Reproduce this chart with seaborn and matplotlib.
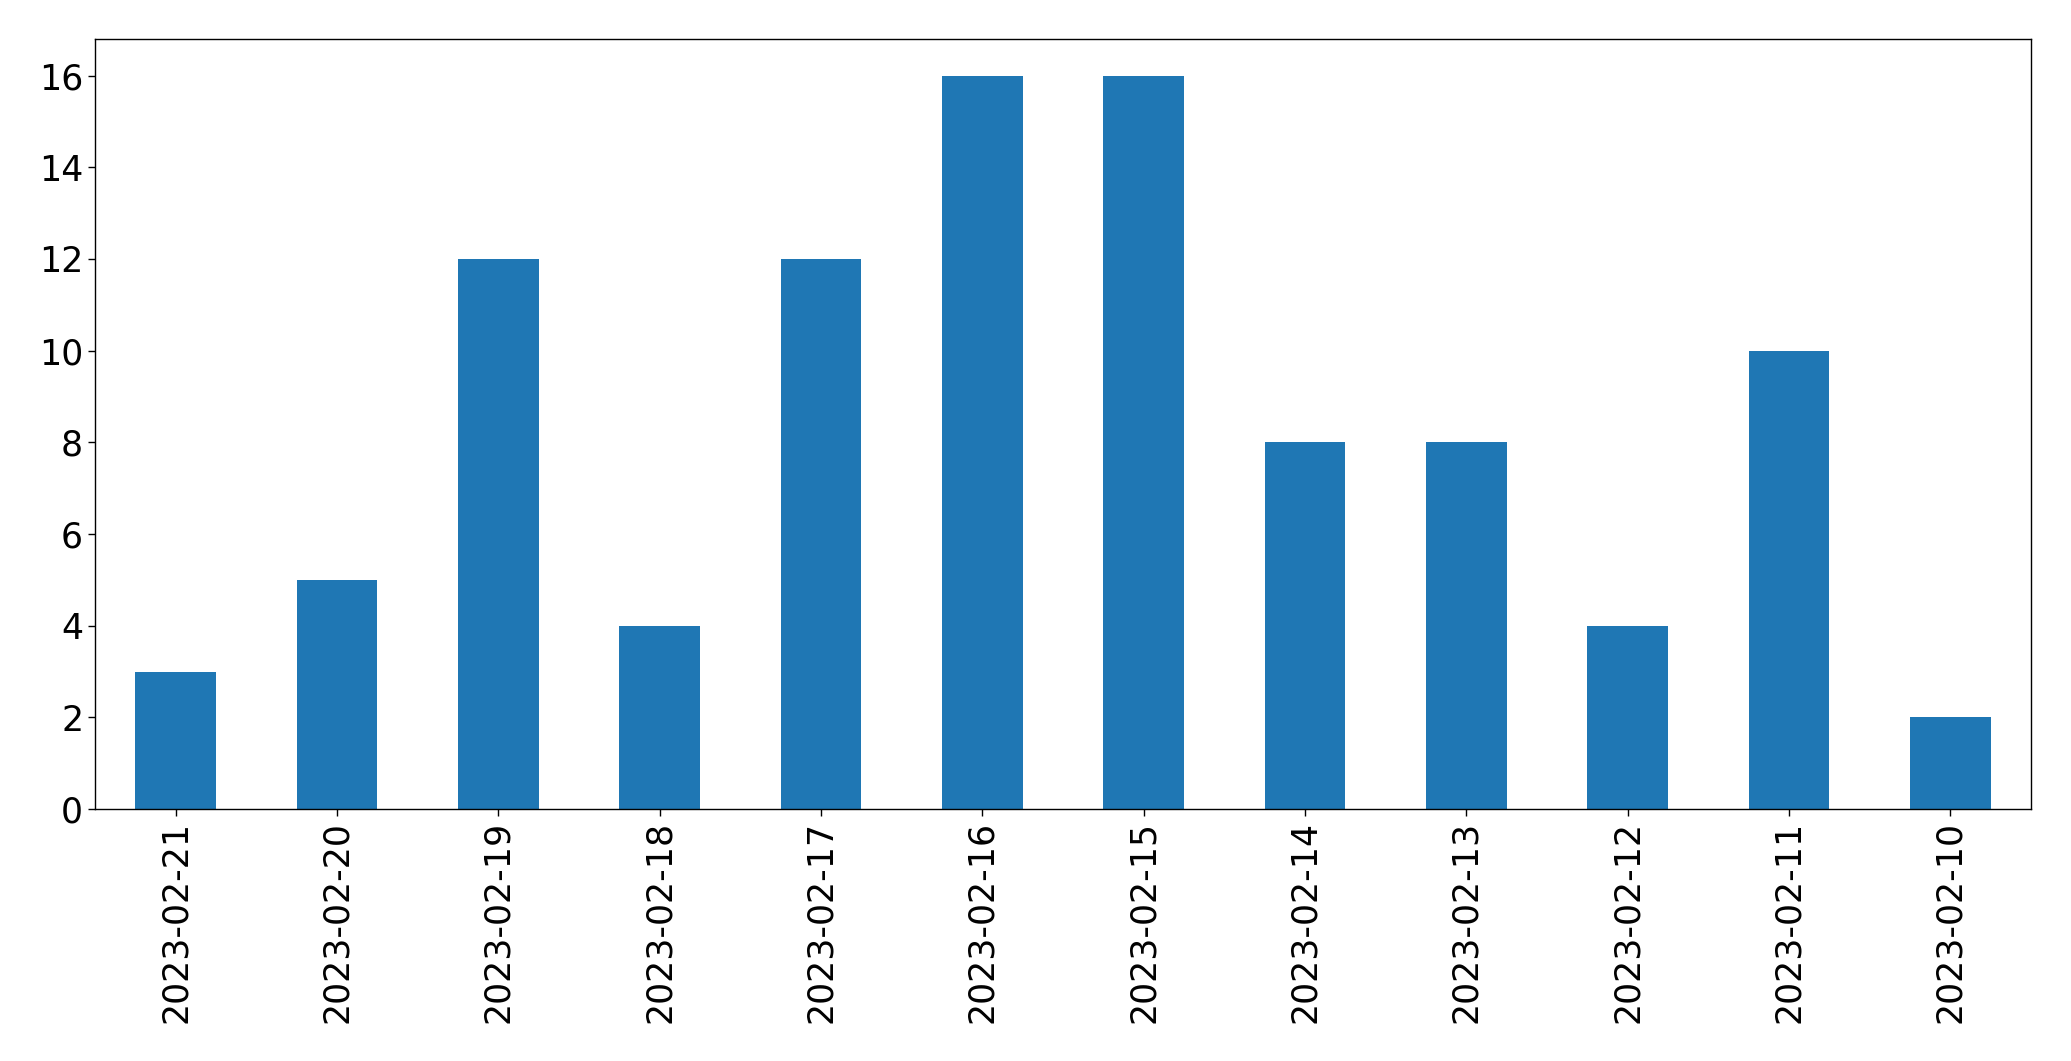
import matplotlib
matplotlib.use("Agg")
import matplotlib.pyplot as plt
import seaborn as sns
import pandas as pd

dates = ["2023-02-21", "2023-02-20", "2023-02-19", "2023-02-18", "2023-02-17", "2023-02-16",
         "2023-02-15", "2023-02-14", "2023-02-13", "2023-02-12", "2023-02-11", "2023-02-10"]
counts = [3, 5, 12, 4, 12, 16, 16, 8, 8, 4, 10, 2]

df = pd.DataFrame({"date": dates, "count": counts})

sns.set_style("ticks", rc={"text.color": "black", "xtick.color": "black",
                           "ytick.color": "black", "axes.edgecolor": "black",
                           "axes.labelcolor": "black"})
plt.rcParams['font.family'] = ['DejaVu Sans']

fig = plt.figure(figsize=(20.71, 10.61), dpi=100)
ax = fig.add_axes([95/2071, 1 - 809/1061, (2031 - 95)/2071, (809 - 39)/1061])
sns.barplot(data=df, x="date", y="count", order=dates, color="#1f77b4", saturation=1,
            width=0.5, linewidth=0, ax=ax)
ax.set_xlim(-0.5, len(dates) - 0.5)
ax.set_ylim(0, 16.8)
ax.set_yticks(range(0, 17, 2))
ax.set_xlabel("")
ax.set_ylabel("")
ax.tick_params(axis="both", labelsize=25, length=5, width=1, colors="black")
plt.setp(ax.get_xticklabels(), rotation=90)
for s in ax.spines.values():
    s.set_visible(True)
    s.set_linewidth(1)
    s.set_color("black")
fig.savefig("out.png", dpi=100)
